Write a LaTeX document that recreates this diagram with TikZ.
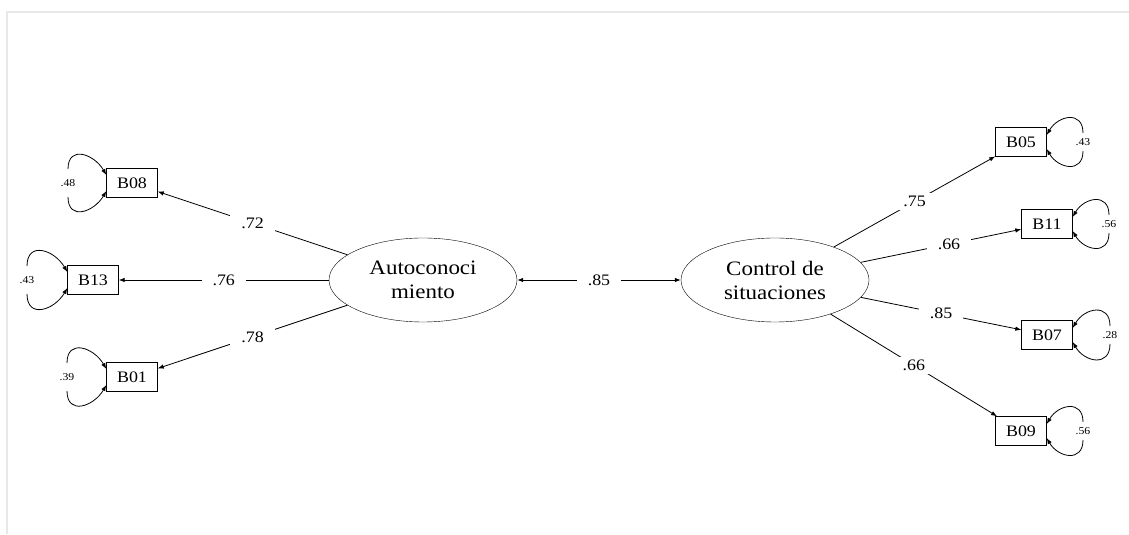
\documentclass[tikz,border=0pt]{standalone}
\usepackage{fontspec}
\setmainfont{Liberation Serif}[FakeStretch=1.12]
\usetikzlibrary{shapes.geometric,arrows.meta}

\tikzset{
  obs/.style={draw, minimum width=51pt, minimum height=29pt, inner sep=0pt,
    font=\fontsize{16}{16}\selectfont},
  lat/.style={draw, ellipse, minimum width=188pt, minimum height=84pt,
    inner sep=0pt, align=center, font=\fontsize{20.5}{24}\selectfont},
  coef/.style={fill=white, inner xsep=11pt, inner ysep=3pt,
    font=\fontsize{16}{16}\selectfont},
  err/.style={inner sep=1pt, font=\fontsize{10.5}{11}\selectfont},
  >={Latex[length=6pt,width=4.5pt]},
  carga/.style={->, line width=0.8pt},
  lazo/.style={->, line width=0.8pt, looseness=1.6}
}

\begin{document}
\begin{tikzpicture}[x=1pt,y=1pt]
\useasboundingbox (0,0) rectangle (1129,535);

% marco
\draw[gray!18, line width=2pt] (7,1) -- (7,523) -- (1129,523);

% factores
\node[lat] (auto) at (423,255) {Autoconoci\\miento};
\node[lat] (ctrl) at (775,255) {Control de\\situaciones};

% items
\node[obs] (b08) at (132,352) {B08};
\node[obs] (b13) at (93,255) {B13};
\node[obs] (b01) at (132,158) {B01};
\node[obs] (b05) at (1021,393) {B05};
\node[obs] (b11) at (1047,311) {B11};
\node[obs] (b07) at (1047,200) {B07};
\node[obs] (b09) at (1021,104) {B09};

% errores
\node[err] (e08) at (68,352) {.48};
\node[err] (e13) at (27,255) {.43};
\node[err] (e01) at (67,158) {.39};
\node[err] (e05) at (1083,393) {.43};
\node[err] (e11) at (1109,311) {.56};
\node[err] (e07) at (1110,200) {.28};
\node[err] (e09) at (1083,104) {.56};

% cargas
\draw[carga] (auto) -- node[coef] {.72} (b08);
\draw[carga] (auto) -- node[coef] {.76} (b13);
\draw[carga] (auto) -- node[coef] {.78} (b01);
\draw[carga] (ctrl) -- node[coef] {.75} (b05);
\draw[carga] (ctrl) -- node[coef, pos=.55] {.66} (b11);
\draw[carga] (ctrl) -- node[coef] {.85} (b07);
\draw[carga] (ctrl) -- node[coef] {.66} (b09);
\draw[carga, <->] (auto) -- node[coef] {.85} (ctrl);

% varianzas
\foreach \e/\b in {e08/b08, e13/b13, e01/b01} {
  \draw[lazo] ([yshift=14pt]\e.center) to[out=90,in=120] ([yshift=8pt]\b.west);
  \draw[lazo] ([yshift=-14pt]\e.center) to[out=-90,in=-120] ([yshift=-8pt]\b.west);
}
\foreach \e/\b in {e05/b05, e11/b11, e07/b07, e09/b09} {
  \draw[lazo] ([yshift=9pt]\e.center) to[out=90,in=60] ([yshift=7pt]\b.east);
  \draw[lazo] ([yshift=-9pt]\e.center) to[out=-90,in=-60] ([yshift=-7pt]\b.east);
}

\end{tikzpicture}
\end{document}
